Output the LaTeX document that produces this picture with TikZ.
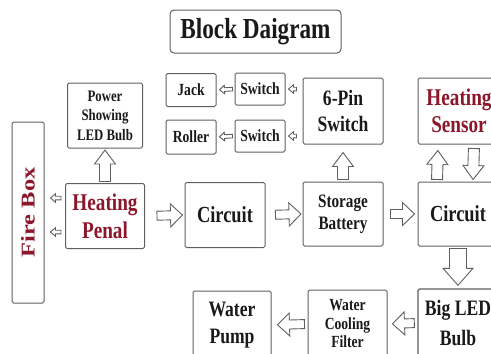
\documentclass[tikz,border=0pt]{standalone}
\usepackage{fontspec}
\setmainfont{Liberation Serif}[FakeStretch=0.8]
\newfontfamily\plainserif{Liberation Serif}
\usetikzlibrary{calc,positioning}
\definecolor{heatred}{RGB}{140,22,42}
\definecolor{edgegray}{RGB}{95,95,95}

% hollow block arrow: shaft half, head half, head length, from, to, tail gap, tip gap
\newcommand{\barrow}[7]{%
  \coordinate (bt) at ($(#4)!#6pt!(#5)$);
  \coordinate (bh) at ($(#5)!#7pt!(#4)$);
  \coordinate (bb) at ($(bh)!#3pt!(bt)$);
  \draw[arr] ($(bt)!#1pt!90:(bh)$) -- ($(bb)!#1pt!90:(bh)$) -- ($(bb)!#2pt!90:(bh)$) -- (bh)
    -- ($(bb)!#2pt!-90:(bh)$) -- ($(bb)!#1pt!-90:(bh)$) -- ($(bt)!#1pt!-90:(bh)$) -- cycle;}
\newcommand{\bigarr}{\barrow{4.5}{11.5}{12}}
\newcommand{\tallarr}{\barrow{5.5}{10.5}{14}}
\newcommand{\fatarr}{\barrow{8.5}{15}{17}}
\newcommand{\smallarr}{\barrow{1.8}{4.3}{5}}

\begin{document}
\begin{tikzpicture}[x=1pt,y=-1pt,font=\bfseries,
  blk/.style={draw=edgegray,line width=1pt,rounded corners=1.5pt,align=center,inner sep=0pt,text=black!90},
  hot/.style={blk,text=heatred},
  arr/.style={draw=edgegray,line width=0.9pt,fill=white,line join=miter}]
\useasboundingbox (0,0) rectangle (491,354);
\clip (0,0) rectangle (491,354);

\node[blk,rounded corners=4pt,minimum width=171pt,minimum height=43pt,font=\bfseries\fontsize{29}{32}\selectfont] (title) at (255.5,31.5) {Block Daigram};

% top row
\node[blk,minimum width=75pt,minimum height=65pt,font=\bfseries\fontsize{16}{19.5}\selectfont] (pwr) at (105,115.5) {Power\\Showing\\LED Bulb};
\node[blk,minimum width=50pt,minimum height=33pt,font=\bfseries\fontsize{17}{19}\selectfont] (jack) at (191,90) {Jack};
\node[blk,minimum width=50pt,minimum height=34pt,font=\bfseries\fontsize{17}{19}\selectfont] (roller) at (191,137) {Roller};
\node[blk,minimum width=50pt,minimum height=32pt,font=\bfseries\fontsize{17}{19}\selectfont] (sw1) at (260,89) {Switch};
\node[blk,minimum width=50pt,minimum height=32pt,font=\bfseries\fontsize{17}{19}\selectfont] (sw2) at (260,136) {Switch};
\node[blk,minimum width=80pt,minimum height=66pt,font=\bfseries\fontsize{22}{26}\selectfont] (pin) at (343,111) {6-Pin\\Switch};
\node[hot,minimum width=82pt,minimum height=66pt,font=\bfseries\fontsize{24}{27}\selectfont] (sens) at (459,111) {Heating\\Sensor};

% middle row
\node[hot,minimum width=32pt,minimum height=181pt] (fire) at (28,212.5) {\rotatebox{90}{\scalebox{1}[0.8]{\plainserif\bfseries\fontsize{24.5}{28}\selectfont Fire Box}}};
\node[hot,minimum width=79pt,minimum height=65pt,font=\bfseries\fontsize{24}{28}\selectfont] (pen) at (105,216) {Heating\\Penal};
\node[blk,minimum width=80pt,minimum height=65pt,font=\bfseries\fontsize{23}{27}\selectfont] (cir1) at (225,215) {Circuit};
\node[blk,minimum width=80pt,minimum height=64pt,font=\bfseries\fontsize{19}{22}\selectfont] (bat) at (343,214) {Storage\\Battery};
\node[blk,minimum width=80pt,minimum height=64pt,font=\bfseries\fontsize{23}{27}\selectfont] (cir2) at (458,214) {Circuit};

% bottom row
\node[blk,minimum width=78pt,minimum height=68pt,font=\bfseries\fontsize{22}{27}\selectfont] (pump) at (232,325) {Water\\Pump};
\node[blk,minimum width=79pt,minimum height=68pt,font=\bfseries\fontsize{17}{18.5}\selectfont] (filt) at (347.5,324) {Water\\Cooling\\Filter};
\node[blk,line width=1.4pt,minimum width=80pt,minimum height=68pt,font=\bfseries\fontsize{22}{30}\selectfont] (big) at (458,323) {Big LED\\Bulb};

% free ends
\coordinate (pa) at (pin.west |- sw1.east);
\coordinate (pb) at (pin.west |- sw2.east);
\coordinate (fa) at (fire.east |- 0,198);
\coordinate (fb) at (fire.east |- 0,232);
\coordinate (ea) at (pen.west |- 0,198);
\coordinate (eb) at (pen.west |- 0,232);
\coordinate (ua) at ([xshift=-21pt]cir2.north);
\coordinate (ub) at ([xshift=-21pt]sens.south);
\coordinate (da) at ([xshift=15pt]sens.south);
\coordinate (db) at ([xshift=15pt]cir2.north);

\tallarr{pen.north}{pwr.south}{1.5}{1.5}
\bigarr{pen.east}{cir1.west}{12}{2}
\bigarr{cir1.east}{bat.west}{10}{1.5}
\bigarr{bat.east}{cir2.west}{7}{3}
\tallarr{bat.north}{pin.south}{2}{8}
\tallarr{ua}{ub}{2}{6}
\tallarr{da}{db}{4}{2}
\fatarr{cir2.south}{big.north}{2}{3}
\bigarr{big.west}{filt.east}{3}{5}
\bigarr{filt.west}{pump.east}{3}{6}
\smallarr{pa}{sw1.east}{6}{3}
\smallarr{pb}{sw2.east}{6}{3}
\smallarr{sw1.west}{jack.east}{2}{3}
\smallarr{sw2.west}{roller.east}{2}{3}
\smallarr{ea}{fa}{4}{6}
\smallarr{eb}{fb}{4}{6}
\end{tikzpicture}
\end{document}
